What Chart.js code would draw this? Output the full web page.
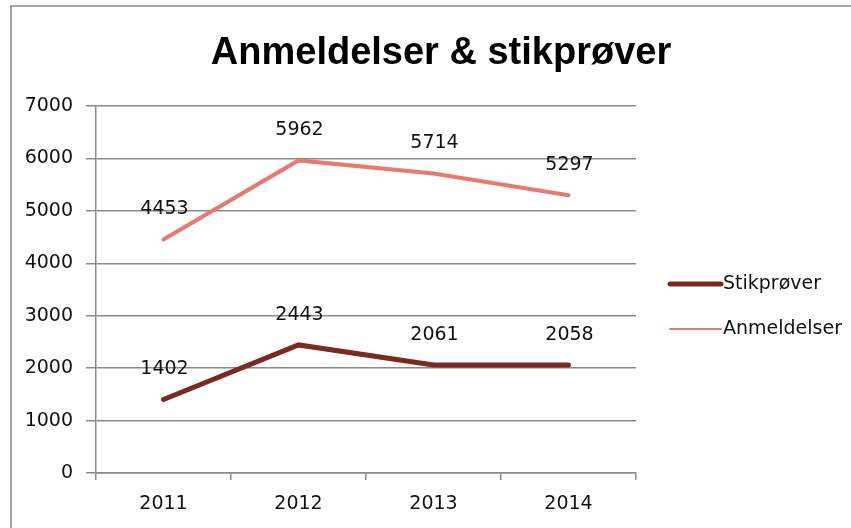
<!DOCTYPE html>
<html>
<head>
<meta charset="utf-8">
<script src="https://cdn.jsdelivr.net/npm/chart.js@4"></script>
<style>
  body { margin: 0; background: #fff; }
  canvas { display: block; }
</style>
</head>
<body>
<canvas id="grafico" width="851" height="528"></canvas>
<script>
const aar = ['2011', '2012', '2013', '2014'];
const stikprover = [1402, 2443, 2061, 2058];
const anmeldelser = [4453, 5962, 5714, 5297];
const yTicks = [0, 1000, 2000, 3000, 4000, 5000, 6000, 7000];

const tittel = 'Anmeldelser & stikprøver';
const gridFarge = '#8a8a8a';
const tekstFont = '"DejaVu Sans", sans-serif';

const rammePlugin = {
    id: 'ramme',
    beforeDraw(chart) {
        const ctx = chart.ctx;
        ctx.save();
        ctx.strokeStyle = '#a6a6a6';
        ctx.lineWidth = 2;
        ctx.beginPath();
        ctx.moveTo(11, 540);
        ctx.lineTo(11, 6);
        ctx.lineTo(860, 6);
        ctx.stroke();
        ctx.restore();
    },
    afterDraw(chart) {
        const ctx = chart.ctx;
        ctx.save();
        // tittel
        ctx.fillStyle = '#000';
        ctx.font = 'bold 38px "Liberation Sans", Arial, sans-serif';
        ctx.textAlign = 'center';
        ctx.textBaseline = 'alphabetic';
        ctx.fillText(tittel, 441, 64);

        // forklaring
        const ds = chart.data.datasets;
        const rader = [
            { ds: ds[0], y: 284, bredde: 5 },
            { ds: ds[1], y: 329, bredde: 2 }
        ];
        ctx.font = '19px ' + tekstFont;
        ctx.textAlign = 'left';
        ctx.textBaseline = 'middle';
        rader.forEach(r => {
            ctx.strokeStyle = r.ds.borderColor;
            ctx.lineWidth = r.bredde;
            ctx.lineCap = 'round';
            ctx.beginPath();
            ctx.moveTo(670, r.y);
            ctx.lineTo(721, r.y);
            ctx.stroke();
            ctx.fillStyle = '#111';
            ctx.fillText(r.ds.label, 723, r.y);
        });
        ctx.restore();
    },
    afterDatasetsDraw(chart) {
        const ctx = chart.ctx;
        ctx.save();
        ctx.font = '19px ' + tekstFont;
        ctx.fillStyle = '#111';
        ctx.textAlign = 'center';
        ctx.textBaseline = 'middle';
        chart.data.datasets.forEach((d, i) => {
            chart.getDatasetMeta(i).data.forEach((p, j) => {
                ctx.fillText(String(d.data[j]), p.x + 1, p.y - 30);
            });
        });
        ctx.restore();
    }
};

new Chart(document.getElementById('grafico'), {
    type: 'line',
    data: {
        labels: aar,
        datasets: [
            { label: 'Stikprøver', data: stikprover, borderColor: '#7b2a22', borderWidth: 5, pointRadius: 0, fill: false, tension: 0, borderCapStyle: 'round' },
            { label: 'Anmeldelser', data: anmeldelser, borderColor: '#e67a6e', borderWidth: 4, pointRadius: 0, fill: false, tension: 0, borderCapStyle: 'round' }
        ]
    },
    options: {
        responsive: false,
        animation: false,
        layout: { padding: { top: 106, right: 215, left: 0, bottom: 0 } },
        plugins: {
            legend: { display: false },
            title: { display: false },
            tooltip: { enabled: false }
        },
        scales: {
            x: {
                offset: true,
                grid: { offset: true, drawOnChartArea: false, drawTicks: true, tickLength: 7, color: gridFarge, lineWidth: 1.5 },
                border: { display: true, color: gridFarge, width: 1.5 },
                ticks: { color: '#111', font: { family: tekstFont, size: 19 }, padding: 13, maxRotation: 0 },
                afterFit(scale) { scale.height = 55; }
            },
            y: {
                min: 0,
                max: 7000,
                afterBuildTicks(scale) { scale.ticks = yTicks.map(v => ({ value: v })); },
                grid: { color: gridFarge, lineWidth: 1.5, drawTicks: true, tickLength: 10 },
                border: { display: true, color: gridFarge, width: 1.5 },
                ticks: {
                    color: '#111',
                    font: { family: tekstFont, size: 19 },
                    padding: 13,
                    callback: v => String(v)
                },
                afterFit(scale) { scale.width = 96; }
            }
        }
    },
    plugins: [rammePlugin]
});
</script>
</body>
</html>
